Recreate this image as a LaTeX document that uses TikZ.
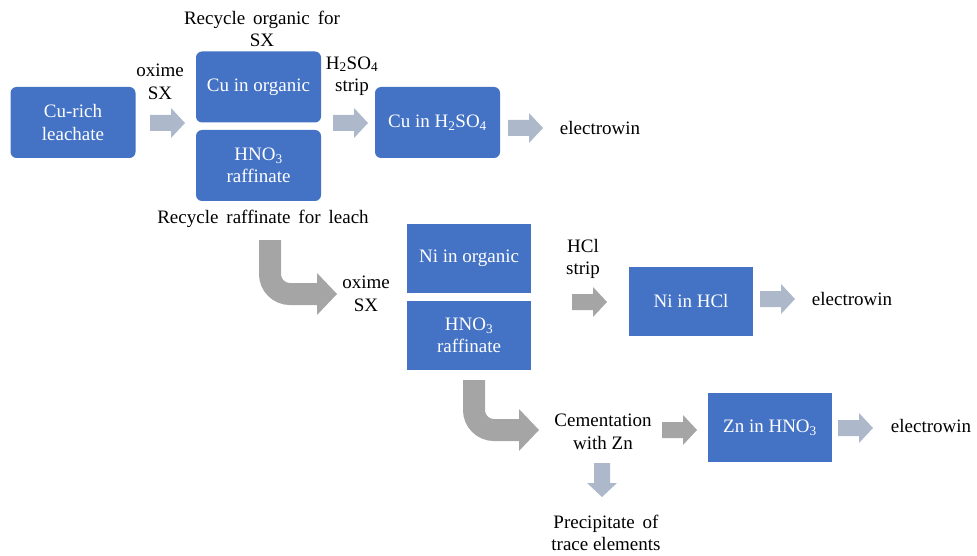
\documentclass[tikz,border=0pt]{standalone}
\usepackage{fontspec}
\setmainfont{LiberationSerif}[Extension=.ttf, UprightFont=*-Regular, BoldFont=*-Bold]
\definecolor{boxblue}{HTML}{4472C4}
\definecolor{lightarr}{HTML}{ADB9CA}
\definecolor{grayarr}{HTML}{A5A5A5}
\newcommand\harrow[3]{% x, y (centre of tail), colour
  \fill[#3] (#1,#2-8) -- ++(21,0) -- ++(0,-7) -- ++(14,15) -- ++(-14,15) -- ++(0,-7) -- ++(-21,0) -- cycle;}
\newcommand\varrow[3]{% x (centre), y (top), colour
  \fill[#3] (#1-8,#2) -- ++(0,20) -- ++(-7,0) -- ++(15,14) -- ++(15,-14) -- ++(-7,0) -- ++(0,-20) -- cycle;}
\newcommand\widesp{\spaceskip=0.42em plus 0.1em\relax}
\begin{document}
\begin{tikzpicture}[x=1pt,y=-1pt,
  every node/.style={font=\fontsize{19}{22.5}\selectfont, align=center, inner sep=0pt},
  rbox/.style={fill=boxblue, text=white, minimum width=125pt, minimum height=71pt, rounded corners=6pt},
  sbox/.style={fill=boxblue, text=white, minimum width=124pt, minimum height=69pt},
  lbl/.style={text=black}]
\useasboundingbox (0,0) rectangle (977,556);
% boxes
\node[rbox] (leach) at (73,122.5) {Cu-rich\\leachate};
\node[rbox] (cuorg) at (258.5,87) {Cu in organic};
\node[rbox] (raf1) at (258.5,165.5) {HNO\textsubscript{3}\\raffinate};
\node[rbox] (cusul) at (437.5,122.5) {Cu in H\textsubscript{2}SO\textsubscript{4}};
\node[sbox] (niorg) at (469,258.5) {Ni in organic};
\node[sbox] (raf2) at (469,335.5) {HNO\textsubscript{3}\\raffinate};
\node[sbox] (nihcl) at (691,301) {Ni in HCl};
\node[sbox] (znhno) at (770,427.5) {Zn in HNO\textsubscript{3}};
% labels
\node[lbl] (recorg) at (262,29) {\widesp Recycle organic for\\SX};
\node[lbl] (ox1) at (160,82) {oxime\\SX};
\node[lbl] (h2so4) at (352,76) {H\textsubscript{2}SO\textsubscript{4}\\strip};
\node[lbl] (recraf) at (263,219) {\widesp Recycle raffinate for leach};
\node[lbl] (ew1) at (600,128) {electrowin};
\node[lbl] (ox2) at (366,294) {oxime\\SX};
\node[lbl] (hcl) at (583,259) {HCl\\strip};
\node[lbl] (ew2) at (852,299) {electrowin};
\node[lbl] (cem) at (603,432) {Cementation\\with Zn};
\node[lbl] (ew3) at (931,426) {electrowin};
\node[lbl] (prec) at (606,533) {\widesp Precipitate of\\trace elements};
% straight block arrows
\harrow{150}{123}{lightarr}
\harrow{333}{123}{lightarr}
\harrow{508}{128}{lightarr}
\harrow{572}{302}{grayarr}
\harrow{760}{299}{lightarr}
\harrow{662}{430}{grayarr}
\harrow{838}{428}{lightarr}
\varrow{602}{463}{lightarr}
% curved block arrows
\draw[grayarr, line width=22pt, rounded corners=20pt] (270,240) |- (318,294);
\fill[grayarr] (317,273) -- (337,294) -- (317,315) -- cycle;
\draw[grayarr, line width=22pt, rounded corners=20pt] (474,380) |- (520,430);
\fill[grayarr] (519,409) -- (539,430) -- (519,451) -- cycle;
\end{tikzpicture}
\end{document}
